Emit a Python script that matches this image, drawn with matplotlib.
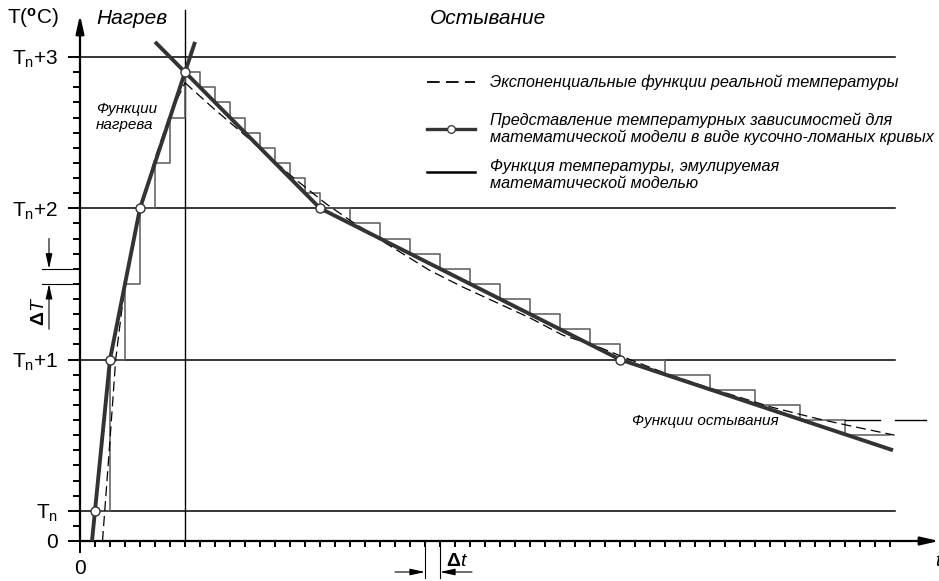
import matplotlib
matplotlib.use("Agg")
import matplotlib.pyplot as plt

plt.rcParams["font.family"] = ["Liberation Sans", "DejaVu Sans"]
plt.rcParams["mathtext.fontset"] = "custom"
plt.rcParams["mathtext.rm"] = "Liberation Sans"
plt.rcParams["mathtext.it"] = "Liberation Sans:italic"
plt.rcParams["mathtext.bf"] = "Liberation Sans:bold"

# units: x in steps of Δt, y in steps of ΔT (Tn = 2, Tn+1 = 12, ...)
ytick_pos = [0, 2, 12, 22, 32]
ytick_lbl = ["0", r"T$_\mathregular{n}$", r"T$_\mathregular{n}$+1",
             r"T$_\mathregular{n}$+2", r"T$_\mathregular{n}$+3"]
grid_levels = [2, 12, 22, 32]
peak_t = 7

# piecewise-linear model (nodes)
heat_x = [0.8, 1, 2, 4, 7, 7.67]
heat_y = [0, 2, 12, 22, 31, 33]
cool_x = [5, 7, 16, 36, 54.2]
cool_y = [33, 31, 22, 12, 6]
node_x = [1, 2, 4, 7, 16, 36]
node_y = [2, 12, 22, 31, 22, 12]

# emulated step function
stair_x = [1, 2, 3, 4, 5, 6, 7, 8, 9, 10, 11, 12, 13, 14, 15, 16, 18, 20, 22, 24,
           26, 28, 30, 32, 34, 36, 39, 42, 45, 48, 51, 54]
stair_y = [2, 12, 17, 22, 25, 28, 31, 30, 29, 28, 27, 26, 25, 24, 23, 22, 21, 20, 19, 18,
           17, 16, 15, 14, 13, 12, 11, 10, 9, 8, 7, 7]

# real exponential temperature
exp_heat_x = [1.5, 1.95, 2.38, 3.0, 3.5, 4.0, 5.0, 6.0, 7.0]
exp_heat_y = [0, 6, 12, 17.0, 19.6, 21.9, 25.3, 28.2, 30.3]
exp_cool_x = [7.0, 8.9, 11.5, 14.0, 16.4, 18.0, 20.2, 23.3, 25.5, 27.8, 30.0, 32.2,
              34.4, 36.0, 39.0, 41.7, 46.1, 49.1, 51.4, 54.3]
exp_cool_y = [30.3, 28.6, 26.4, 24.2, 22.3, 21.2, 19.8, 17.9, 16.8, 15.75, 14.75, 13.6,
              12.9, 12.25, 11.1, 10.2, 8.85, 8.1, 7.6, 7.0]

W, H = 939, 581
X0, Y0, SX, SY = 80, 541, 15.0, 15.125


def P(px, py):
    return (px - X0) / SX, (Y0 - py) / SY


fig = plt.figure(figsize=(W / 100, H / 100), dpi=100)
ax = fig.add_axes([X0 / W, (H - Y0) / H, (W - X0) / W, (Y0 - 15) / H])
ax.set_xlim(0, (W - X0) / SX)
ax.set_ylim(0, (Y0 - 15) / SY)
for s in ax.spines.values():
    s.set_visible(False)

# axes with arrows
arrow_axis = dict(arrowstyle="-|>,head_length=1.1,head_width=0.25", lw=1.6,
                  color="k", shrinkA=0, shrinkB=0)
ax.annotate("", xy=((W - X0) / SX, 0), xytext=(0, 0), annotation_clip=False,
            arrowprops=arrow_axis)
ax.annotate("", xy=P(80, 15), xytext=(0, 0), annotation_clip=False,
            arrowprops=arrow_axis)

ax.set_yticks(ytick_pos)
ax.set_yticklabels(ytick_lbl, fontsize=15)
ax.set_yticks(range(0, 33), minor=True)
ax.set_xticks([0])
ax.set_xticklabels(["0"], fontsize=15)
ax.set_xticks(range(1, 55), minor=True)
ax.tick_params(axis="y", which="major", length=8.6, width=1.4, pad=7)
ax.tick_params(axis="y", which="minor", length=5, width=1.4)
ax.tick_params(axis="x", which="major", length=8.6, width=1.4, pad=4)
ax.tick_params(axis="x", which="minor", length=4.3, width=1.4)

# grid
for g in grid_levels:
    ax.plot([0, 54.33], [g, g], color="k", lw=1.1, zorder=2)
ax.plot([peak_t, peak_t], [0, P(0, 10)[1]], color="k", lw=1.0, zorder=2, clip_on=False)

# staircase
ax.step(stair_x, stair_y, where="post", color="#5a5a5a", lw=1.1, zorder=3)
ax.plot([51, 53.3], [8, 8], color="k", lw=1.0, zorder=3)
ax.plot([54.33, 56.4], [8, 8], color="k", lw=1.0, zorder=3)

# exponential
ax.plot(exp_heat_x, exp_heat_y, color="k", lw=0.9, dashes=(8, 4), zorder=4)
ax.plot(exp_cool_x, exp_cool_y, color="k", lw=0.9, dashes=(8, 4), zorder=4)

# piecewise
ax.plot(heat_x, heat_y, color="#333333", lw=2.8, zorder=5, solid_capstyle="butt")
ax.plot(cool_x, cool_y, color="#333333", lw=2.8, zorder=5, solid_capstyle="butt")
ax.plot(node_x, node_y, "o", ms=6.5, mfc="white", mec="#333333", mew=1.0, zorder=6)

# texts
ax.text(*P(7, 18), "T(" + r"$^\mathbf{o}$" + "C)", fontsize=15, ha="left", va="center")
ax.text(*P(96, 19), "Нагрев", fontsize=15, style="italic", ha="left", va="center")
ax.text(*P(430, 19), "Остывание", fontsize=15, style="italic", ha="left", va="center")
ax.text(*P(96, 117), "Функции\nнагрева", fontsize=11, style="italic", ha="left",
        va="center", linespacing=1.1)
ax.text(*P(632, 421), "Функции остывания", fontsize=11, style="italic", ha="left",
        va="center")

# legend
lx0, lx1, tx = P(427, 0)[0], P(475, 0)[0], P(490, 0)[0]
ax.plot([lx0, lx1], [P(0, 82)[1]] * 2, color="k", lw=1.3, dashes=(7, 3.5))
ax.text(tx, P(0, 82)[1], "Экспоненциальные функции реальной температуры",
        fontsize=11.7, style="italic", va="center")
ax.plot([lx0, lx1], [P(0, 129)[1]] * 2, color="#333333", lw=2.4)
ax.plot([(lx0 + lx1) / 2], [P(0, 129)[1]], "o", ms=5.5, mfc="white", mec="#333333", mew=0.9)
ax.text(tx, P(0, 129)[1], "Представление температурных зависимостей для\n"
        "математической модели в виде кусочно-ломаных кривых",
        fontsize=11.7, style="italic", va="center", linespacing=1.15)
ax.plot([lx0, lx1], [P(0, 172)[1]] * 2, color="k", lw=1.8)
ax.text(tx, P(0, 175)[1], "Функция температуры, эмулируемая\nматематической моделью",
        fontsize=11.7, style="italic", va="center", linespacing=1.15)

# ΔT annotation
arrow_dim = dict(arrowstyle="-|>,head_length=0.9,head_width=0.2", lw=0.8,
                 color="k", shrinkA=0, shrinkB=0)
for yy in (17, 18):
    ax.plot([P(42, 0)[0], 0], [yy, yy], color="k", lw=0.8, clip_on=False)
xa = P(49, 0)[0]
ax.annotate("", xy=(xa, 18), xytext=(xa, 20), annotation_clip=False, arrowprops=arrow_dim)
ax.annotate("", xy=(xa, 17), xytext=(xa, 14), annotation_clip=False, arrowprops=arrow_dim)
ax.text(*P(39, 311), r"$\mathbf{\Delta}$$\mathit{T}$", fontsize=14, rotation=90,
        ha="center", va="center")

# Δt annotation
for xx in (23, 24):
    ax.plot([xx, xx], [0, P(0, 578)[1]], color="k", lw=0.8, clip_on=False)
ya = P(0, 572)[1]
ax.annotate("", xy=(23, ya), xytext=(P(395, 0)[0], ya), annotation_clip=False,
            arrowprops=arrow_dim)
ax.annotate("", xy=(24, ya), xytext=(P(472, 0)[0], ya), annotation_clip=False,
            arrowprops=arrow_dim)
ax.text(*P(446, 561), r"$\mathbf{\Delta}\mathit{t}$", fontsize=14, ha="left", va="center")
ax.text(*P(935, 562), "t", fontsize=14, style="italic", ha="left", va="center")

fig.savefig("out.png", dpi=100)
